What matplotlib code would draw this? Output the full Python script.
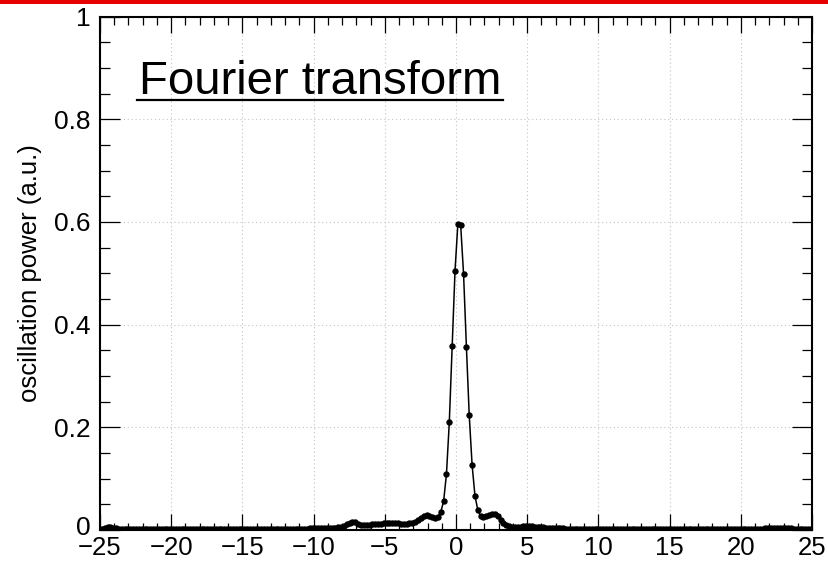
import numpy as np
import matplotlib
matplotlib.use("Agg")
import matplotlib.pyplot as plt
from matplotlib.ticker import MultipleLocator, FixedLocator, FixedFormatter
from matplotlib.patches import Rectangle
from matplotlib.lines import Line2D
from matplotlib.transforms import ScaledTranslation

plt.rcParams['font.family'] = ['Liberation Sans', 'DejaVu Sans']

# frequency grid (even sampling, step 0.2)
freq_start = -24.87
freq_step = 0.2
n_points = 250
freq = freq_start + freq_step * np.arange(n_points)

# oscillation power (rows of 10 samples)
power = [
    0.002, 0.004, 0.005, 0.005, 0.004, 0.003, 0.002, 0.002, 0.002, 0.002,
    0.002, 0.002, 0.002, 0.001, 0.001, 0.001, 0.001, 0.001, 0.002, 0.002,
    0.002, 0.002, 0.002, 0.002, 0.001, 0.001, 0.001, 0.001, 0.001, 0.001,
    0.001, 0.001, 0.001, 0.001, 0.001, 0.002, 0.002, 0.002, 0.002, 0.002,
    0.002, 0.002, 0.002, 0.001, 0.001, 0.001, 0.001, 0.001, 0.001, 0.001,
    0.001, 0.001, 0.002, 0.002, 0.002, 0.002, 0.002, 0.002, 0.001, 0.001,
    0.001, 0.001, 0.002, 0.002, 0.002, 0.002, 0.002, 0.002, 0.002, 0.002,
    0.002, 0.002, 0.002, 0.003, 0.003, 0.003, 0.003, 0.003, 0.003, 0.004,
    0.004, 0.004, 0.004, 0.005, 0.006, 0.008, 0.011, 0.014, 0.016, 0.015,
    0.012, 0.010, 0.009, 0.009, 0.010, 0.011, 0.011, 0.012, 0.012, 0.013,
    0.013, 0.014, 0.014, 0.013, 0.013, 0.012, 0.012, 0.012, 0.013, 0.014,
    0.016, 0.019, 0.023, 0.027, 0.029, 0.028, 0.025, 0.023, 0.026, 0.035,
    0.056, 0.109, 0.210, 0.359, 0.504, 0.596, 0.593, 0.499, 0.357, 0.223,
    0.127, 0.067, 0.039, 0.027, 0.025, 0.027, 0.030, 0.032, 0.031, 0.027,
    0.020, 0.014, 0.009, 0.007, 0.006, 0.006, 0.006, 0.006, 0.007, 0.007,
    0.007, 0.007, 0.006, 0.006, 0.005, 0.005, 0.004, 0.004, 0.003, 0.003,
    0.003, 0.003, 0.003, 0.002, 0.002, 0.002, 0.002, 0.002, 0.002, 0.002,
    0.002, 0.002, 0.002, 0.002, 0.002, 0.001, 0.001, 0.001, 0.001, 0.001,
    0.001, 0.001, 0.001, 0.001, 0.001, 0.001, 0.001, 0.001, 0.001, 0.001,
    0.001, 0.001, 0.001, 0.001, 0.001, 0.002, 0.002, 0.002, 0.002, 0.002,
    0.002, 0.002, 0.002, 0.001, 0.001, 0.001, 0.001, 0.001, 0.001, 0.001,
    0.001, 0.001, 0.001, 0.001, 0.001, 0.001, 0.001, 0.001, 0.001, 0.001,
    0.001, 0.001, 0.001, 0.001, 0.001, 0.001, 0.001, 0.001, 0.001, 0.002,
    0.002, 0.002, 0.002, 0.003, 0.003, 0.004, 0.004, 0.004, 0.004, 0.004,
    0.003, 0.003, 0.003, 0.002, 0.002, 0.002, 0.002, 0.002, 0.002, 0.002,
]

x_ticks = [-25, -20, -15, -10, -5, 0, 5, 10, 15, 20, 25]
x_ticklabels = ['\u221225', '\u221220', '\u221215', '\u221210', '\u22125',
                '0', '5', '10', '15', '20', '25']
y_ticks = [0, 0.2, 0.4, 0.6, 0.8, 1.0]
y_ticklabels = ['0', '0.2', '0.4', '0.6', '0.8', '1']
title_text = 'Fourier transform'
y_label = 'oscillation power (a.u.)'

W, H = 829, 561
fig = plt.figure(figsize=(W / 100, H / 100), dpi=100)
ax = fig.add_axes([100 / W, 1 - 530 / H, 712 / W, (530 - 16.5) / H])

ax.plot(freq, power, color='black', lw=1.1, marker='o', ms=4.6,
        markeredgewidth=0, zorder=3)

ax.set_xlim(-25, 25)
ax.set_ylim(0, 1)

ax.xaxis.set_major_locator(FixedLocator(x_ticks))
ax.xaxis.set_major_formatter(FixedFormatter(x_ticklabels))
ax.xaxis.set_minor_locator(MultipleLocator(1))
ax.yaxis.set_major_locator(FixedLocator(y_ticks))
ax.yaxis.set_major_formatter(FixedFormatter(y_ticklabels))
ax.yaxis.set_minor_locator(MultipleLocator(0.05))

ax.tick_params(axis='both', which='both', direction='in', top=True, right=True,
               colors='black', width=0.9, labelsize=19)
ax.tick_params(axis='x', which='major', length=11.3, pad=4.5, labelsize=18.5)
ax.tick_params(axis='x', which='minor', length=5.4)
ax.tick_params(axis='y', which='major', length=14.4, pad=7)
ax.tick_params(axis='y', which='minor', length=7.2)

for s in ax.spines.values():
    s.set_linewidth(1.5)
    s.set_zorder(5)

ax.grid(True, which='major', color='#c4c4c4', lw=0.8, linestyle=(0, (1, 2.5)))
ax.set_axisbelow(True)

fig.text(30 / W, 1 - 273 / H, y_label, rotation=90, ha='center', va='center',
         fontsize=18.5)

t = fig.text(139 / W, 1 - 94 / H, title_text, ha='left', va='baseline',
             fontsize=34)
fig.canvas.draw()

# nudge the y "0" label up slightly so it clears the x labels
ylab0 = ax.yaxis.get_majorticklabels()[0]
ylab0.set_transform(ylab0.get_transform() + ScaledTranslation(0, 3 / 72, fig.dpi_scale_trans))

bb = t.get_window_extent()
uy = 1 - 100 / H
fig.add_artist(Line2D([bb.x0 / W - 1.5 / W, bb.x1 / W + 1.5 / W], [uy, uy],
                      transform=fig.transFigure, color='black', lw=1.6))

fig.patches.append(Rectangle((0, 1 - 3.7 / H), 1, 3.7 / H, transform=fig.transFigure,
                             facecolor='#e60000', edgecolor='none', zorder=10))

fig.savefig('out.png', dpi=100)
